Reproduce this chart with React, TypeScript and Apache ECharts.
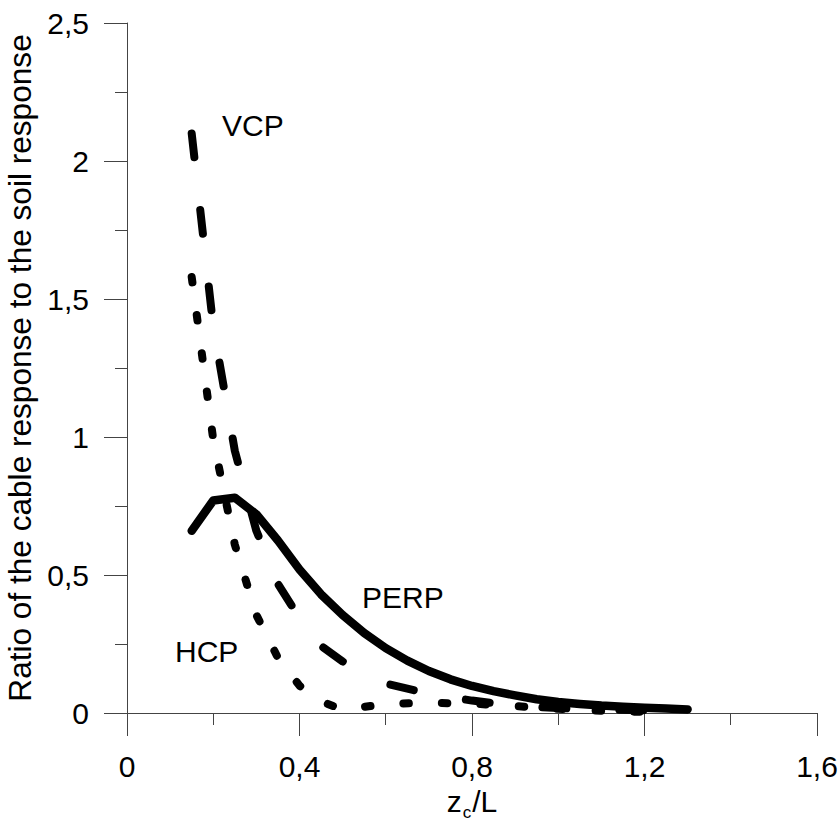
import React, { useEffect, useRef } from "react";
import * as echarts from "echarts";

// z_c/L values and ratio values
const perpX = [0.15, 0.2, 0.25, 0.3, 0.35, 0.4, 0.45, 0.5, 0.55, 0.6, 0.65, 0.7, 0.75, 0.8, 0.85, 0.9, 0.95, 1.0, 1.05, 1.1, 1.15, 1.2, 1.25, 1.3];
const perpY = [0.66, 0.77, 0.78, 0.72, 0.625, 0.52, 0.43, 0.355, 0.29, 0.235, 0.19, 0.152, 0.122, 0.098, 0.079, 0.064, 0.05, 0.04, 0.033, 0.027, 0.023, 0.019, 0.016, 0.013];

const vcpX = [0.15, 0.2, 0.25, 0.3, 0.35, 0.4, 0.45, 0.5, 0.6, 0.7, 0.8, 0.9, 1.0, 1.1, 1.2, 1.3];
const vcpY = [2.1, 1.4, 0.95, 0.66, 0.468, 0.344, 0.243, 0.187, 0.107, 0.07, 0.045, 0.025, 0.018, 0.013, 0.01, 0.008];

const hcpX = [0.15, 0.2, 0.25, 0.3, 0.35, 0.4, 0.45, 0.5, 0.55, 0.6, 0.7, 0.8, 0.9, 1.0, 1.1, 1.2];
const hcpY = [1.58, 0.99, 0.61, 0.355, 0.2, 0.099, 0.042, 0.012, 0.022, 0.033, 0.037, 0.034, 0.025, 0.015, 0.008, 0.004];

const seriesNames = ["PERP", "VCP", "HCP"];
const yAxisTitle = "Ratio of the cable response to the soil response";

const FONT = "'Liberation Sans', Arial, Helvetica, sans-serif";
const AXIS_COLOR = "#444";

const zip = (xs: number[], ys: number[]) => xs.map((x, i) => [x, ys[i]]);
const comma = (v: number) => String(v).replace(".", ",");

export default function App() {
  const ref = useRef<HTMLDivElement>(null);
  useEffect(() => {
    if (!ref.current) return;
    const chart = echarts.init(ref.current, null, { renderer: "svg" });
    const axisCommon = {
      axisLine: { show: true, onZero: false, lineStyle: { color: AXIS_COLOR, width: 1 } },
      axisTick: { show: true, inside: false, length: 23, lineStyle: { color: AXIS_COLOR, width: 1 } },
      minorTick: { show: true, splitNumber: 2, length: 12, lineStyle: { color: AXIS_COLOR, width: 1 } },
      splitLine: { show: false },
      minorSplitLine: { show: false },
    };
    chart.setOption({
      animation: false,
      backgroundColor: "#fff",
      grid: {
        left: 127,
        right: 23,
        top: 23,
        bottom: 112,
        containLabel: false,
        outerBoundsMode: "none",
      },
      xAxis: {
        type: "value",
        min: 0,
        max: 1.6,
        interval: 0.4,
        ...axisCommon,
        axisLabel: {
          color: "#000",
          fontSize: 30,
          fontFamily: FONT,
          margin: 38,
          formatter: (v: number) => comma(v),
        },
        name: "{z|z}{c|c}{z|/L}",
        nameLocation: "middle",
        nameGap: 73,
        nameTextStyle: {
          color: "#000",
          fontFamily: FONT,
          rich: {
            z: { fontSize: 30, lineHeight: 30, fontFamily: FONT, color: "#000", verticalAlign: "top" },
            c: { fontSize: 17, lineHeight: 17, fontFamily: FONT, color: "#000", verticalAlign: "top", padding: [18, 1, 0, 1] },
          },
        },
      },
      yAxis: {
        type: "value",
        min: 0,
        max: 2.5,
        interval: 0.5,
        ...axisCommon,
        axisLabel: {
          color: "#000",
          fontSize: 30,
          fontFamily: FONT,
          margin: 38,
          formatter: (v: number) => comma(v),
        },
        name: yAxisTitle,
        nameLocation: "middle",
        nameGap: 87,
        nameTextStyle: { color: "#000", fontSize: 31.6, fontFamily: FONT },
      },
      series: [
        {
          name: seriesNames[0],
          type: "line",
          data: zip(perpX, perpY),
          showSymbol: false,
          symbol: "none",
          lineStyle: { color: "#000", width: 8.5, type: "solid", cap: "round", join: "round" },
          z: 3,
        },
        {
          name: seriesNames[1],
          type: "line",
          data: zip(vcpX, vcpY),
          showSymbol: false,
          symbol: "none",
          lineStyle: { color: "#000", width: 8, type: [24, 53], cap: "round", join: "round" },
          z: 2,
        },
        {
          name: seriesNames[2],
          type: "line",
          data: zip(hcpX, hcpY),
          showSymbol: false,
          symbol: "none",
          lineStyle: { color: "#000", width: 8, type: [5.5, 33], cap: "round", join: "round" },
          z: 2,
        },
      ],
      graphic: [
        { type: "text", left: 222, top: 110, style: { text: "VCP", fontSize: 30, fontFamily: FONT, fill: "#000" } },
        { type: "text", left: 362, top: 582, style: { text: "PERP", fontSize: 30, fontFamily: FONT, fill: "#000" } },
        { type: "text", left: 175, top: 636, style: { text: "HCP", fontSize: 30, fontFamily: FONT, fill: "#000" } },
      ],
    });
    return () => chart.dispose();
  }, []);
  return (
    <div
      ref={ref}
      style={{ position: "absolute", left: 0, top: 0, width: 840, height: 825, background: "#fff" }}
    />
  );
}
